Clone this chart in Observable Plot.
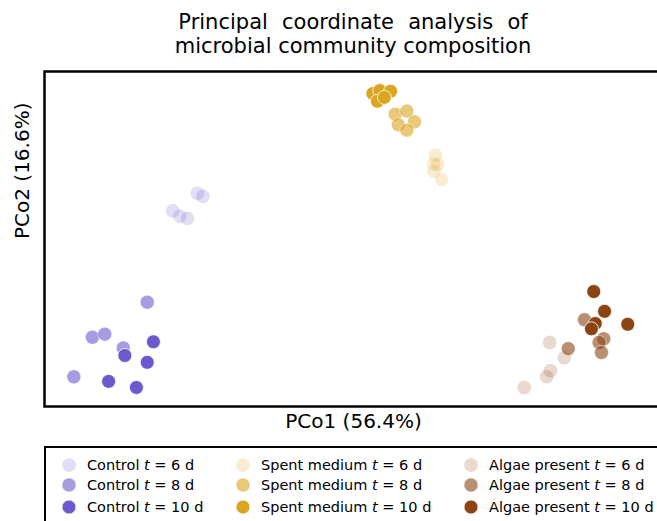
<!DOCTYPE html>
<html>
<head>
<meta charset="utf-8">
<script src="https://cdn.jsdelivr.net/npm/d3@7"></script>
<script src="https://cdn.jsdelivr.net/npm/@observablehq/plot@0.6"></script>
<style>
  html, body { margin: 0; padding: 0; background: #fff; overflow: hidden; width: 657px; height: 521px; }
  body { font-family: "DejaVu Sans", sans-serif; position: relative; }
  #title { position: absolute; top: 10px; left: 44px; width: 618px; text-align: center; font-size: 21px; line-height: 24px; color: #000; white-space: nowrap; }
  #title .l1 { word-spacing: 7.5px; }
  #title .l2 { word-spacing: 0px; }
  #chart { position: absolute; top: 60px; left: 0; width: 700px; }
  #chart svg { max-width: none !important; }
  #legend { position: absolute; top: 446px; left: 44px; width: 640px; height: 100px; border: 2px solid #000; box-sizing: border-box; }
  .item { position: absolute; font-size: 14.5px; line-height: 16px; white-space: nowrap; display: flex; align-items: center; }
  .item svg { margin-right: 10px; }
</style>
</head>
<body>
<div id="title"><div class="l1">Principal coordinate analysis of</div><div class="l2">microbial community composition</div></div>
<div id="chart"></div>
<div id="legend"></div>
<script>
// Treatments, sampling times and colours
const groups = ["Control", "Spent medium", "Algae present"];
const times = [6, 8, 10];
const groupColors = ["#6a5acd", "#daa520", "#8b4513"];
const timeAlpha = [0.2, 0.6, 1.0];

// PCo1 / PCo2 coordinates, five replicates per series
const control6_pco1 = [-0.202, -0.195, -0.234, -0.225, -0.215];
const control6_pco2 = [0.060, 0.056, 0.037, 0.030, 0.027];
const control8_pco1 = [-0.267, -0.338, -0.322, -0.298, -0.362];
const control8_pco2 = [-0.083, -0.129, -0.125, -0.143, -0.181];
const control10_pco1 = [-0.259, -0.296, -0.267, -0.317, -0.281];
const control10_pco2 = [-0.135, -0.153, -0.162, -0.187, -0.195];

const spent6_pco1 = [0.106, 0.104, 0.109, 0.104, 0.114];
const spent6_pco2 = [0.110, 0.099, 0.098, 0.089, 0.078];
const spent8_pco1 = [0.054, 0.069, 0.079, 0.058, 0.069];
const spent8_pco2 = [0.164, 0.168, 0.154, 0.150, 0.143];
const spent10_pco1 = [0.025, 0.034, 0.048, 0.031, 0.040];
const spent10_pco2 = [0.191, 0.195, 0.194, 0.181, 0.186];

const algae6_pco1 = [0.254, 0.273, 0.255, 0.250, 0.221];
const algae6_pco2 = [-0.136, -0.156, -0.173, -0.181, -0.195];
const algae8_pco1 = [0.299, 0.278, 0.324, 0.318, 0.321];
const algae8_pco2 = [-0.106, -0.144, -0.131, -0.136, -0.149];
const algae10_pco1 = [0.311, 0.325, 0.355, 0.313, 0.308];
const algae10_pco2 = [-0.069, -0.095, -0.112, -0.111, -0.118];

const xLabel = "PCo1 (56.4%)";
const yLabel = "PCo2 (16.6%)";

const seriesX = [
  [control6_pco1, control8_pco1, control10_pco1],
  [spent6_pco1, spent8_pco1, spent10_pco1],
  [algae6_pco1, algae8_pco1, algae10_pco1]
];
const seriesY = [
  [control6_pco2, control8_pco2, control10_pco2],
  [spent6_pco2, spent8_pco2, spent10_pco2],
  [algae6_pco2, algae8_pco2, algae10_pco2]
];

const marks = [];
groups.forEach((g, gi) => {
  times.forEach((t, ti) => {
    const data = seriesX[gi][ti].map((x, i) => ({pco1: x, pco2: seriesY[gi][ti][i]}));
    marks.push(Plot.dot(data, {
      x: "pco1", y: "pco2", r: 7,
      fill: groupColors[gi], fillOpacity: timeAlpha[ti],
      stroke: "white", strokeWidth: 0.8, strokeOpacity: timeAlpha[ti]
    }));
  });
});
marks.push(Plot.frame({stroke: "black", strokeWidth: 2.5}));
marks.push(Plot.text([xLabel], {frameAnchor: "bottom", dy: 21, fontSize: 20, fill: "black", text: d => d}));
marks.push(Plot.text([yLabel], {frameAnchor: "left", dx: -22, rotate: -90, fontSize: 20, fill: "black", text: d => d}));

const chart = Plot.plot({
  width: 700,
  height: 376,
  marginLeft: 44,
  marginRight: 38,
  marginTop: 11,
  marginBottom: 30,
  style: {fontFamily: "DejaVu Sans, sans-serif", background: "white", overflow: "visible", maxWidth: "none"},
  x: {domain: [-0.4, 0.4], axis: null},
  y: {domain: [-0.22, 0.22], axis: null},
  marks
});
document.getElementById("chart").appendChild(chart);

// Legend
const legend = document.getElementById("legend");
const colLeft = [15, 189, 417];
const rowTop = [9, 29, 51];
groups.forEach((g, gi) => {
  times.forEach((t, ti) => {
    const div = document.createElement("div");
    div.className = "item";
    div.style.left = colLeft[gi] + "px";
    div.style.top = rowTop[ti] + "px";
    div.innerHTML = `<svg width="16" height="16"><circle cx="8" cy="8" r="7" fill="${groupColors[gi]}" fill-opacity="${timeAlpha[ti]}" stroke="white" stroke-width="0.8" stroke-opacity="${timeAlpha[ti]}"/></svg><span>${g} <i>t</i> = ${t} d</span>`;
    legend.appendChild(div);
  });
});
</script>
</body>
</html>
